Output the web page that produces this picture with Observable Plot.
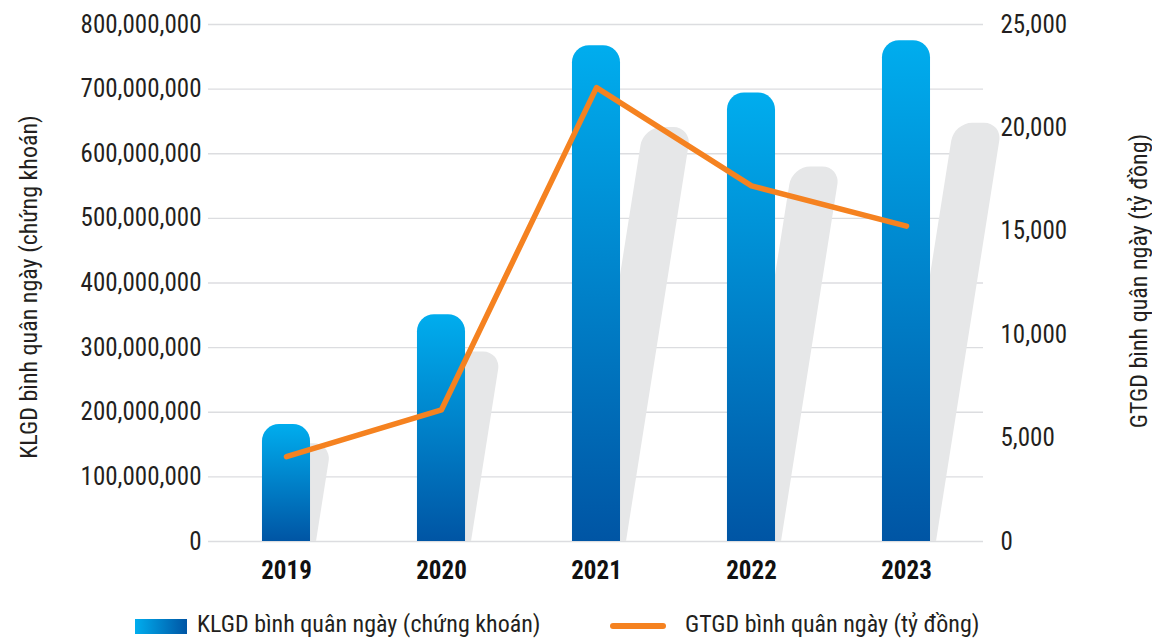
<!DOCTYPE html>
<html>
<head>
<meta charset="utf-8">
<script src="https://cdn.jsdelivr.net/npm/d3@7"></script>
<script src="https://cdn.jsdelivr.net/npm/@observablehq/plot@0.6"></script>
<style>
  html, body { margin: 0; padding: 0; background: #fff; }
  body { font-family: "Roboto Condensed", "Liberation Sans Narrow", "DejaVu Sans Condensed", Roboto, sans-serif; color: #231f20; }
  #wrap { position: relative; width: 1152px; height: 644px; overflow: hidden; }
  #legend { position: absolute; left: 0; top: 606px; width: 1152px; height: 38px; font-size: 24px; }
  .lg { position: absolute; top: 5px; white-space: nowrap; line-height: 26px; }
  .sw { position: absolute; }
</style>
</head>
<body>
<div id="wrap">
  <div id="chart"></div>
  <div id="legend"></div>
</div>
<script>
// ---- data ----
const years = ["2019", "2020", "2021", "2022", "2023"];
const klgd = [181000000, 351000000, 767000000, 694000000, 775000000];   // KLGD bình quân ngày (chứng khoán)
const gtgd = [4100, 6370, 21950, 17200, 15250];                          // GTGD bình quân ngày (tỷ đồng)
const leftTicks = [0, 100000000, 200000000, 300000000, 400000000, 500000000, 600000000, 700000000, 800000000];
const rightTicks = [0, 5000, 10000, 15000, 20000, 25000];
const leftLabel = "KLGD bình quân ngày (chứng khoán)";
const rightLabel = "GTGD bình quân ngày (tỷ đồng)";

// ---- style constants ----
const BAR_TOP = "#00adee", BAR_BOTTOM = "#0055a4", LINE = "#f58220", SHADOW = "#e6e7e8", GRID = "#dcdde0";
const RATIO = 800000000 / 25000;      // right axis mapped onto left scale
const SHADOW_RATIO = 0.835;           // decorative shadow height relative to bar
const SKEW = 0.158;                   // shadow lean
const PAD_IN = 0.69, PAD_OUT = 0.345;
const FONT = '"Roboto Condensed", "Liberation Sans Narrow", "DejaVu Sans Condensed", Roboto, sans-serif';

const data = years.map((year, i) => ({year, klgd: klgd[i], gtgd: gtgd[i], gtgdL: gtgd[i] * RATIO}));
const fmt = d3.format(",");

// band geometry from the library's x scale: returns [start, width] for a year
function bandOf(scales, dims) {
  const sx = scales.x;
  const step = sx(years[1]) - sx(years[0]);
  let bw = sx.bandwidth;
  if (typeof bw === "function") bw = bw();
  if (!(bw > 0)) bw = step * (1 - PAD_IN);
  const off = sx(years[0]) - dims.marginLeft;
  const centered = off > step * PAD_OUT + bw / 4;
  return (year) => [centered ? sx(year) - bw / 2 : sx(year), bw];
}

function shadowMark(index, scales, values, dims) {
  const band = bandOf(scales, dims), sy = scales.y;
  const g = d3.create("svg:g");
  const r = 18;
  const ang = -Math.atan(SKEW) * 180 / Math.PI;
  for (const d of data) {
    const [x0, bw] = band(d.year);
    const base = sy(0);
    const h = base - sy(d.klgd * SHADOW_RATIO);
    g.append("path")
      .attr("transform", `translate(${x0 + 6},${base}) skewX(${ang})`)
      .attr("d", `M0,0V${-h + r}A${r},${r} 0 0 1 ${r},${-h}H${bw - r}A${r},${r} 0 0 1 ${bw},${-h + r}V0Z`)
      .attr("fill", SHADOW);
  }
  return g.node();
}

function barMark(index, scales, values, dims) {
  const band = bandOf(scales, dims), sy = scales.y;
  const g = d3.create("svg:g");
  const grad = g.append("defs").append("linearGradient")
    .attr("id", "barGrad").attr("x1", 0).attr("y1", 0).attr("x2", 0).attr("y2", 1);
  grad.append("stop").attr("offset", "0%").attr("stop-color", BAR_TOP);
  grad.append("stop").attr("offset", "100%").attr("stop-color", BAR_BOTTOM);
  const r = 17;
  for (const d of data) {
    const [x0, bw] = band(d.year);
    const base = sy(0), top = sy(d.klgd);
    g.append("path")
      .attr("d", `M${x0},${base}V${top + r}A${r},${r} 0 0 1 ${x0 + r},${top}H${x0 + bw - r}A${r},${r} 0 0 1 ${x0 + bw},${top + r}V${base}Z`)
      .attr("fill", "url(#barGrad)");
  }
  return g.node();
}

function titleMark() {
  const g = d3.create("svg:g").attr("font-size", 24).attr("fill", "#231f20").attr("text-anchor", "middle");
  g.append("text").attr("transform", `translate(37,287) rotate(-90)`).text(leftLabel);
  g.append("text").attr("transform", `translate(1147,281) rotate(-90)`).text(rightLabel);
  return g.node();
}

const chart = Plot.plot({
  width: 1152,
  height: 606,
  marginLeft: 208,
  marginRight: 169,
  marginTop: 24,
  marginBottom: 65,
  style: {fontFamily: FONT, fontSize: "25px", color: "#231f20", background: "#fff", overflow: "visible"},
  x: {domain: years, paddingInner: PAD_IN, paddingOuter: PAD_OUT, label: null},
  y: {domain: [0, 800000000], label: null},
  marks: [
    Plot.gridY(leftTicks, {stroke: GRID, strokeOpacity: 1, strokeWidth: 1.3}),
    shadowMark,
    barMark,
    Plot.line(data, {x: "year", y: "gtgdL", stroke: LINE, strokeWidth: 5.5, strokeLinecap: "round", strokeLinejoin: "round"}),
    Plot.axisX({tickSize: 0, tickPadding: 20, fontWeight: "bold", fill: "#111", label: null}),
    Plot.axisY({anchor: "left", ticks: leftTicks, tickFormat: fmt, tickSize: 0, tickPadding: 7, label: null}),
    Plot.axisY({anchor: "right", ticks: rightTicks.map(v => v * RATIO), tickFormat: d => fmt(Math.round(d / RATIO)), tickSize: 0, tickPadding: 17, label: null}),
    titleMark
  ]
});
document.getElementById("chart").appendChild(chart);

// ---- legend ----
const legend = d3.select("#legend");
legend.append("div").attr("class", "sw")
  .style("left", "135px").style("top", "13px").style("width", "52px").style("height", "15px")
  .style("background", `linear-gradient(to right, ${BAR_TOP}, ${BAR_BOTTOM})`);
legend.append("div").attr("class", "lg").style("left", "197px").text(leftLabel);
legend.append("div").attr("class", "sw")
  .style("left", "610px").style("top", "17px").style("width", "56px").style("height", "6px")
  .style("border-radius", "3px").style("background", LINE);
legend.append("div").attr("class", "lg").style("left", "685px").text(rightLabel);
</script>
</body>
</html>
